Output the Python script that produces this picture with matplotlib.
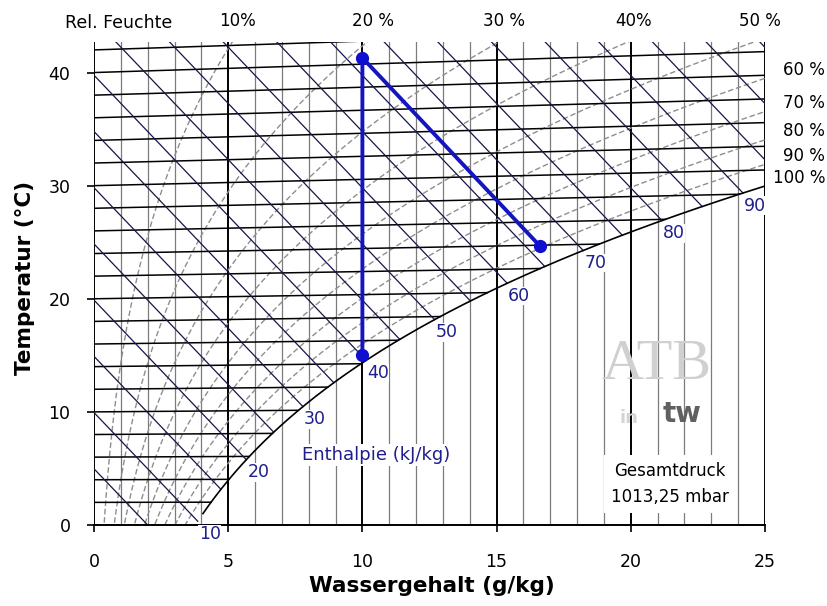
import numpy as np
import matplotlib
matplotlib.use("Agg")
import matplotlib.pyplot as plt

plt.rcParams['font.family'] = ['DejaVu Sans']

# ---------------- data ----------------
total_pressure = 1013.25          # mbar (Gesamtdruck)
rh_levels = [0.1, 0.2, 0.3, 0.4, 0.5, 0.6, 0.7, 0.8, 0.9, 1.0]
rh_labels = ["10%", "20 %", "30 %", "40%", "50 %", "60 %", "70 %", "80 %", "90 %", "100 %"]
isotherm_temps = [2, 4, 6, 8, 10, 12, 14, 16, 18, 20, 22, 24, 26, 28, 30,
                  32, 34, 36, 38, 40, 42]
enthalpy_levels = [5, 10, 15, 20, 25, 30, 35, 40, 45, 50, 55, 60, 65, 70,
                   75, 80, 85, 90, 95, 100, 105]
enthalpy_label_values = [10, 20, 30, 40, 50, 60, 70, 80, 90]
water_grid = list(range(0, 26))   # g/kg
x_ticks = [0, 5, 10, 15, 20, 25]
y_ticks = [0, 10, 20, 30, 40]
process_water = [10.0, 10.0, 16.6]   # g/kg
process_temp = [15.0, 41.3, 24.7]    # chart temperature axis


# ------------- psychrometric relations (Mollier chart) -------------
def p_sat(t):
    return 6.112 * np.exp(17.62 * t / (243.12 + t))


def water_content(t, phi):
    ps = phi * p_sat(t)
    return 622.0 * ps / (total_pressure - ps)


def chart_y(t, x):
    # skewed Mollier ordinate: isotherms rise slightly with x
    return t + 1.86 * t * x / 1006.0


def y_of_enthalpy(h, x):
    return (h - 2.501 * x) / 1.006


X0, X1 = 0.0, 25.0
YTOP = 42.7

fig = plt.figure(figsize=(8.27, 6.06), dpi=100)
ax = fig.add_axes([94 / 827, 1 - 525 / 606, 671 / 827, 483 / 606])
ax.set_xlim(X0, X1)
ax.set_ylim(0, YTOP)

# vertical water-content grid
for xv in water_grid:
    major = xv % 5 == 0
    ax.plot([xv, xv], [0, YTOP], color='black' if major else '#7c7c7c',
            lw=1.4 if major else 0.9, zorder=1)

# relative humidity curves (dashed grey)
t_curve = np.linspace(-2, 50, 600)
for phi in rh_levels[:-1]:
    xc = water_content(t_curve, phi)
    ax.plot(xc, chart_y(t_curve, xc), color='#8e8e8e', lw=1.0,
            dashes=(4, 2), zorder=2)

# saturation curve
t_s = np.linspace(0, 50, 1000)
x_s = water_content(t_s, 1.0)
h_s = 1.006 * t_s + x_s / 1000 * (2501 + 1.86 * t_s)
draw = t_s >= 1
ax.plot(x_s[draw], chart_y(t_s, x_s)[draw], color='black', lw=1.2, zorder=4)

# isotherms (end at saturation)
for t in isotherm_temps:
    xe = min(float(water_content(t, 1.0)), X1)
    ax.plot([0, xe], [chart_y(t, 0), chart_y(t, xe)], color='black',
            lw=1.1, zorder=3)

# enthalpy lines (end at saturation)
h_end_x = {}
for h in enthalpy_levels:
    if h >= h_s[0]:
        xe = float(np.interp(h, h_s, x_s))
    else:
        xe = h / 2.501
    h_end_x[h] = xe
    xs = np.array([0.0, xe])
    ax.plot(xs, y_of_enthalpy(h, xs), color='#16164a', lw=0.9, zorder=3)

# enthalpy labels
for h in enthalpy_label_values:
    xl = min(h_end_x[h] + 0.45, 24.65)
    ax.text(xl, y_of_enthalpy(h, xl), str(h), color='#1e1e8c', fontsize=12.5,
            ha='center', va='center', zorder=6,
            bbox=dict(fc='white', ec='none', pad=0.3))

ax.text(10.5, 6.2, "Enthalpie (kJ/kg)", color='#1e1e8c', fontsize=13,
        ha='center', va='center', zorder=6,
        bbox=dict(fc='white', ec='none', pad=1.5))

# relative humidity labels
for phi, lab in zip(rh_levels, rh_labels):
    xc = water_content(t_curve, phi)
    yc = chart_y(t_curve, xc)
    x_top = float(np.interp(YTOP, yc, xc))
    if x_top <= X1 + 1.5:
        ax.annotate(lab, (min(x_top, X1 + 0.1), YTOP), xytext=(4, 15),
                    textcoords='offset points', ha='center', va='center',
                    fontsize=12, annotation_clip=False)
    else:
        y_right = float(np.interp(X1, xc, yc))
        dx = 6 if phi == 1.0 else 13
        ax.annotate(lab, (X1, y_right), xytext=(dx, 6),
                    textcoords='offset points', ha='left', va='center',
                    fontsize=12, annotation_clip=False)

fig.text(65 / 827, 1 - 23 / 606, "Rel. Feuchte", fontsize=12.5,
         ha='left', va='center')

# process (heating + adiabatic humidification)
ax.plot(process_water, process_temp, color='#1515c0', lw=2.8, zorder=8,
        solid_capstyle='round')
ax.plot(process_water, process_temp, 'o', color='#0f0fd0', ms=8.5, zorder=9)

# watermark
fig.text(656 / 827, 1 - 365 / 606, "ATB", family='Liberation Serif',
         fontsize=42, color='#d0d0d0', ha='center', va='center', zorder=0)
fig.text(629 / 827, 1 - 418 / 606, "in", fontsize=13, color='#d4d4d4',
         ha='center', va='center', weight='bold')
fig.text(682 / 827, 1 - 414 / 606, "tw", fontsize=20, color='#606060',
         ha='center', va='center', weight='bold')

# total pressure note
ax.text(21.45, 3.6, "Gesamtdruck\n1013,25 mbar", fontsize=12, ha='center',
        va='center', linespacing=1.55, zorder=6,
        bbox=dict(fc='white', ec='none', pad=5))

# axes styling
for s in ['top', 'right', 'left']:
    ax.spines[s].set_visible(False)
ax.spines['bottom'].set_linewidth(1.4)
ax.spines['bottom'].set_zorder(5)
ax.set_xticks(x_ticks)
ax.set_yticks(y_ticks)
ax.tick_params(axis='both', direction='out', length=5, width=1.2,
               labelsize=12.5)
ax.tick_params(axis='y', pad=12)
ax.tick_params(axis='x', pad=15)

fig.text(432 / 827, 1 - 586 / 606, "Wassergehalt (g/kg)", fontsize=15.5,
         weight='bold', ha='center', va='center')
fig.text(25 / 827, 1 - 278 / 606, "Temperatur (°C)", fontsize=15.5,
         weight='bold', ha='center', va='center', rotation=90)

fig.savefig("out.png", dpi=100)
